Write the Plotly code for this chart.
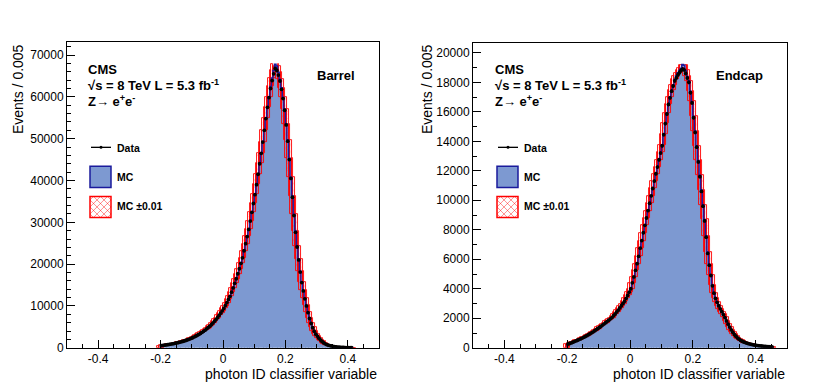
import numpy as np
import plotly.graph_objects as go

# ---------------- data (bin width 0.005) ----------------
bin_width = 0.005
barrel_first_edge = -0.200
endcap_first_edge = -0.200

barrel_data = [
    500, 560, 620, 680, 740, 800, 870, 940, 1010, 1090,
    1170, 1260, 1350, 1450, 1560, 1680, 1800, 1940, 2080, 2240,
    2400, 2590, 2780, 2990, 3200, 3440, 3690, 3940, 4200, 4520,
    4840, 5170, 5500, 5900, 6330, 6760, 7200, 7730, 8270, 8830,
    9400, 10100, 10800, 11550, 12300, 13300, 14300, 15400, 16500, 17700,
    18900, 20200, 21500, 23200, 24900, 26600, 28300, 30300, 32400, 34500,
    36600, 39000, 41500, 44000, 46500, 49200, 52000, 54800, 57500, 59800,
    62000, 63900, 65500, 66800, 66300, 65200, 63800, 61800, 59600, 56800,
    53300, 49400, 45000, 40500, 36000, 31600, 27600, 24100, 21000, 18100,
    15600, 13600, 11700, 10000, 8400, 7000, 5800, 4800, 3950, 3250,
    2800, 2300, 1870, 1500, 1200, 950, 760, 620, 510, 420,
    340, 275, 220, 175, 140, 110, 88, 70, 55, 44,
    35, 28, 22,
]
barrel_mc = [
    480, 540, 600, 660, 720, 780, 850, 920, 990, 1070,
    1150, 1240, 1330, 1430, 1540, 1660, 1780, 1920, 2060, 2220,
    2380, 2570, 2760, 2970, 3180, 3420, 3670, 3920, 4180, 4500,
    4820, 5150, 5480, 5880, 6310, 6740, 7180, 7710, 8250, 8810,
    9380, 10080, 10780, 11530, 12300, 13300, 14300, 15400, 16500, 17700,
    18900, 20200, 21500, 23200, 24900, 26600, 28300, 30300, 32400, 34600,
    36700, 39100, 41600, 44100, 46600, 49300, 52100, 54900, 57600, 60000,
    62500, 64500, 66300, 67800, 67400, 65900, 64200, 62200, 59900, 57100,
    53600, 49700, 45300, 40800, 36300, 31900, 27900, 24300, 21200, 18300,
    15800, 13700, 11800, 10100, 8500, 7100, 5850, 4850, 4000, 3280,
    2800, 2300, 1870, 1500, 1200, 950, 750, 600, 490, 400,
    320, 260, 210, 165, 130, 100, 80, 63, 50, 40,
    32, 25, 20,
]

endcap_data = [
    250, 290, 330, 375, 420, 465, 510, 555, 600, 655,
    710, 765, 820, 885, 950, 1015, 1080, 1155, 1230, 1305,
    1380, 1460, 1540, 1620, 1700, 1790, 1870, 1960, 2050, 2170,
    2290, 2420, 2550, 2700, 2850, 3000, 3150, 3350, 3550, 3770,
    4000, 4400, 4800, 5250, 5700, 6200, 6750, 7270, 7800, 8300,
    8800, 9300, 9800, 10300, 10800, 11300, 11800, 12250, 12750, 13200,
    13700, 14450, 15200, 15850, 16500, 16950, 17400, 17750, 18100, 18300,
    18500, 18650, 18800, 18900, 18850, 18600, 18300, 18000, 17300, 16600,
    15600, 14600, 13600, 12600, 11600, 10600, 9600, 8600, 7500, 6400,
    5600, 4900, 4200, 3700, 3350, 3080, 2850, 2640, 2450, 2250,
    2050, 1820, 1600, 1400, 1210, 1050, 900, 780, 670, 580,
    500, 440, 390, 350, 310, 280, 250, 225, 200, 180,
    160, 145, 130, 118, 106, 95, 85, 76, 68, 60, 52,
]
endcap_mc = [
    240, 280, 320, 365, 410, 455, 500, 545, 590, 645,
    700, 755, 810, 875, 940, 1005, 1070, 1145, 1220, 1295,
    1370, 1450, 1530, 1610, 1690, 1780, 1860, 1950, 2040, 2160,
    2280, 2410, 2540, 2690, 2840, 2990, 3140, 3340, 3540, 3760,
    3990, 4390, 4790, 5240, 5690, 6190, 6740, 7260, 7800, 8300,
    8800, 9300, 9800, 10300, 10800, 11300, 11800, 12250, 12750, 13250,
    13750, 14500, 15250, 15900, 16550, 17000, 17450, 17800, 18200, 18450,
    18650, 18800, 18950, 19200, 19150, 18800, 18400, 18100, 17400, 16700,
    15700, 14700, 13700, 12700, 11700, 10700, 9700, 8700, 7600, 6500,
    5650, 4950, 4250, 3720, 3360, 3090, 2850, 2640, 2450, 2250,
    2050, 1820, 1600, 1400, 1210, 1050, 900, 780, 670, 580,
    500, 440, 390, 350, 310, 280, 250, 225, 200, 180,
    160, 145, 130, 118, 106, 95, 85, 76, 68, 60, 52,
]

mc_shift = 0.01
x_tick_vals = [-0.4, -0.2, 0.0, 0.2, 0.4]
x_tick_text = ["-0.4", "-0.2", "0", "0.2", "0.4"]
barrel_y_ticks = [0, 10000, 20000, 30000, 40000, 50000, 60000, 70000]
endcap_y_ticks = [0, 2000, 4000, 6000, 8000, 10000, 12000, 14000, 16000, 18000, 20000]

# ---------------- style ----------------
W, H = 814, 389
YFIX = 389.0 / 397.0   # observed vertical compression of the rendered page
FONT = "Liberation Sans, Arial, Helvetica, sans-serif"
MC_FILL = "#7d99d1"
MC_LINE = "#1a1a9c"
RED = "#ff0000"


def px(x):
    return x / W


def py(y):
    return 1 - (y / YFIX) / H


fig = go.Figure()


def add_panel(data, mc, first_edge, xa, ya):
    n = len(mc)
    edges = first_edge + bin_width * np.arange(n + 1)
    centers = edges[:-1] + bin_width / 2
    mc = np.array(mc, dtype=float)
    data = np.array(data, dtype=float)
    nshift = int(round(mc_shift / bin_width))
    pad = np.zeros(nshift)
    # MC fill
    fig.add_trace(go.Bar(x=centers, y=mc, width=bin_width, marker=dict(color=MC_FILL, line=dict(width=0)),
                         xaxis=xa, yaxis=ya, showlegend=False, hoverinfo="skip"))
    # band between MC shifted by +0.01 and -0.01
    ext_edges = first_edge + bin_width * np.arange(-nshift, n + nshift + 1)
    ext_centers = ext_edges[:-1] + bin_width / 2
    ext_up = np.concatenate([pad, pad, mc])
    ext_dn = np.concatenate([mc, pad, pad])
    blo = np.minimum(ext_up, ext_dn)
    bhi = np.maximum(ext_up, ext_dn)
    keep = (bhi - blo) > 0
    fig.add_trace(go.Bar(x=ext_centers[keep], y=(bhi - blo)[keep], base=blo[keep], width=bin_width,
                         marker=dict(color="rgba(0,0,0,0)",
                                     line=dict(color=RED, width=0.9),
                                     pattern=dict(shape="x", size=5, solidity=0.2,
                                                  fgcolor="rgba(255,0,0,0.5)",
                                                  bgcolor="rgba(0,0,0,0)")),
                         xaxis=xa, yaxis=ya, showlegend=False, hoverinfo="skip"))
    # MC outline
    sx = np.concatenate([[edges[0]], edges[:-1], [edges[-1]]])
    sy = np.concatenate([[0], mc, [0]])
    fig.add_trace(go.Scatter(x=sx, y=sy, mode="lines", line=dict(color=MC_LINE, width=1.5, shape="hv"),
                             xaxis=xa, yaxis=ya, showlegend=False, hoverinfo="skip"))
    # data
    fig.add_trace(go.Scatter(x=centers, y=data, mode="markers",
                             marker=dict(color="black", size=3.8),
                             error_y=dict(type="data", array=np.sqrt(data), width=0, thickness=1, color="black"),
                             xaxis=xa, yaxis=ya, showlegend=False, hoverinfo="skip"))


add_panel(barrel_data, barrel_mc, barrel_first_edge, "x", "y")
add_panel(endcap_data, endcap_mc, endcap_first_edge, "x2", "y2")

axis_common = dict(showline=True, mirror=True, linecolor="black", linewidth=1, showgrid=False,
                   zeroline=False, ticks="inside", tickcolor="black", ticklen=8, tickwidth=1,
                   tickfont=dict(family=FONT, size=12, color="black"))

fig.update_layout(
    width=W, height=H, margin=dict(l=0, r=0, t=0, b=0), autosize=False,
    paper_bgcolor="white", plot_bgcolor="white", barmode="overlay", bargap=0,
    xaxis=dict(domain=[px(67), px(379)], range=[-0.5, 0.5], anchor="y",
               tickvals=x_tick_vals, ticktext=x_tick_text,
               minor=dict(dtick=0.05, tick0=0, ticklen=4, ticks="inside", tickcolor="black"), **axis_common),
    yaxis=dict(domain=[py(347), py(42)], range=[0, 73100], anchor="x",
               tickvals=barrel_y_ticks, ticktext=[str(v) for v in barrel_y_ticks],
               minor=dict(dtick=2000, tick0=0, ticklen=4, ticks="inside", tickcolor="black"), **axis_common),
    xaxis2=dict(domain=[px(473), px(787)], range=[-0.5, 0.5], anchor="y2",
                tickvals=x_tick_vals, ticktext=x_tick_text,
                minor=dict(dtick=0.05, tick0=0, ticklen=4, ticks="inside", tickcolor="black"), **axis_common),
    yaxis2=dict(domain=[py(347), py(43)], range=[0, 20660], anchor="x2",
                tickvals=endcap_y_ticks, ticktext=[str(v) for v in endcap_y_ticks],
                minor=dict(dtick=1000, tick0=0, ticklen=4, ticks="inside", tickcolor="black"), **axis_common),
)

annotations = []
shapes = []


def txt(x, y, text, size=13, xanchor="left", yanchor="middle", angle=0):
    annotations.append(dict(x=px(x), y=py(y), xref="paper", yref="paper", text=text, showarrow=False,
                            xanchor=xanchor, yanchor=yanchor, textangle=angle,
                            font=dict(family=FONT, size=size, color="black")))


def panel_decor(x0, region, ytitle_x, plot_right):
    txt(ytitle_x, 42, "Events / 0.005", size=14, xanchor="center", yanchor="top", angle=-90)
    txt(plot_right, 373, "photon ID classifier variable", size=14, xanchor="right")
    txt(x0, 69, "<b>CMS</b>", size=13)
    txt(x0, 85, "<b>√s = 8 TeV L = 5.3 fb<sup>-1</sup></b>", size=13)
    txt(x0, 101, "<b>Z→ e<sup>+</sup>e<sup>-</sup></b>", size=13)
    lx = x0 + 4
    shapes.append(dict(type="line", xref="paper", yref="paper", x0=px(lx + 1), x1=px(lx + 21), y0=py(147), y1=py(147),
                       line=dict(color="black", width=1.3)))
    shapes.append(dict(type="circle", xref="paper", yref="paper", x0=px(lx + 9.5), x1=px(lx + 12.5),
                       y0=py(145.5), y1=py(148.5), fillcolor="black", line=dict(color="black", width=0)))
    txt(lx + 25, 147.5, "<b>Data</b>", size=10.5)
    shapes.append(dict(type="rect", xref="paper", yref="paper", x0=px(lx), x1=px(lx + 21), y0=py(166), y1=py(187),
                       fillcolor=MC_FILL, line=dict(color=MC_LINE, width=1.5)))
    txt(lx + 25, 176.5, "<b>MC</b>", size=10.5)
    bx0, by0, s = lx, 196, 21
    step = 7
    for c in np.arange(-s + step / 2, s, step):
        xa0 = max(0, c)
        xa1 = min(s, s + c)
        if xa1 > xa0:
            shapes.append(dict(type="line", xref="paper", yref="paper",
                               x0=px(bx0 + xa0), y0=py(by0 + xa0 - c), x1=px(bx0 + xa1), y1=py(by0 + xa1 - c),
                               line=dict(color="rgba(255,0,0,0.55)", width=0.8)))
            shapes.append(dict(type="line", xref="paper", yref="paper",
                               x0=px(bx0 + s - xa0), y0=py(by0 + xa0 - c), x1=px(bx0 + s - xa1), y1=py(by0 + xa1 - c),
                               line=dict(color="rgba(255,0,0,0.55)", width=0.8)))
    shapes.append(dict(type="rect", xref="paper", yref="paper", x0=px(bx0), x1=px(bx0 + s), y0=py(by0), y1=py(by0 + s),
                       line=dict(color=RED, width=1.5)))
    txt(lx + 25, 206, "<b>MC ±0.01</b>", size=10.5)
    txt(plot_right - 22, 75, "<b>" + region + "</b>", size=13, xanchor="right")


panel_decor(86, "Barrel", 18, 379)
panel_decor(493, "Endcap", 427, 787)

fig.update_layout(annotations=annotations, shapes=shapes)

post = (
    "var d=document.getElementById('{plot_id}');"
    "var p=d.parentElement;"
    "p.style.height='389px';p.style.width='814px';p.style.overflow='hidden';p.style.lineHeight='0';"
    "document.body.style.margin='0';document.body.style.padding='0';"
    "document.body.style.height='389px';document.body.style.overflow='hidden';"
    "document.documentElement.style.height='389px';document.documentElement.style.overflow='hidden';"
)
fig.write_html("out.html", config={"displayModeBar": False}, post_script=post)
